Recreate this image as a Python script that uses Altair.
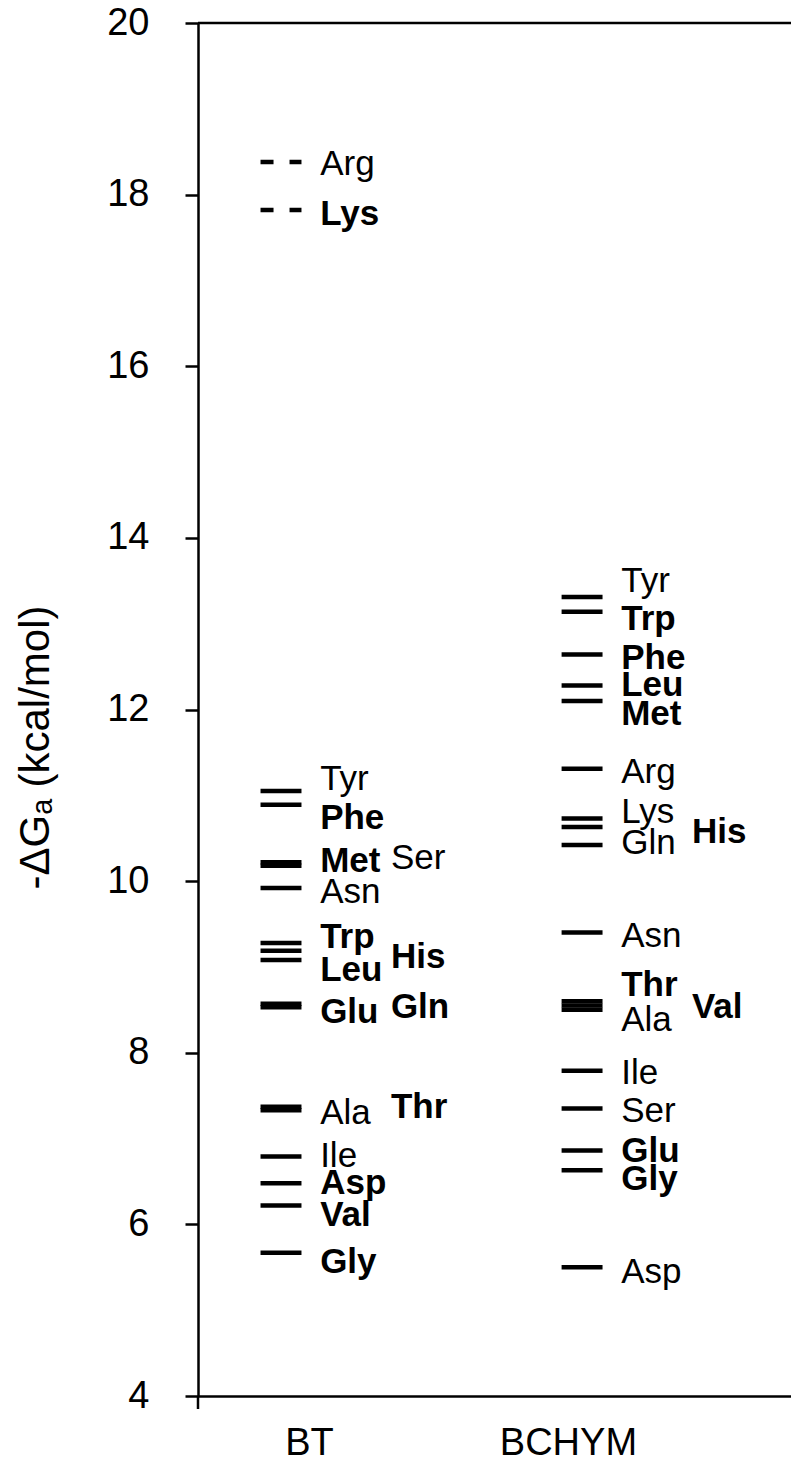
import altair as alt
import pandas as pd

columns = ["BT", "BCHYM"]

bt_names = ["Arg", "Lys", "Tyr", "Phe", "Met", "Ser", "Asn", "Trp", "His",
            "Leu", "Glu", "Gln", "Ala", "Thr", "Ile", "Asp", "Val", "Gly"]
bt_values = [18.38, 17.82, 11.05, 10.89, 10.22, 10.18, 9.92, 9.28, 9.19,
             9.08, 8.57, 8.53, 7.37, 7.33, 6.79, 6.48, 6.22, 5.67]
bt_label_y = [18.36, 17.77, 11.19, 10.74, 10.24, 10.27, 9.87, 9.35, 9.12,
              8.97, 8.48, 8.53, 7.30, 7.37, 6.80, 6.48, 6.11, 5.56]
bt_bold = [False, True, False, True, True, False, False, True, True,
           True, True, True, False, True, False, True, True, True]
bt_label_col = [0, 0, 0, 0, 0, 1, 0, 0, 1, 0, 0, 1, 0, 1, 0, 0, 0, 0]
bt_dashed = [True, True, False, False, False, False, False, False, False,
             False, False, False, False, False, False, False, False, False]

bc_names = ["Tyr", "Trp", "Phe", "Leu", "Met", "Arg", "Lys", "His", "Gln",
            "Asn", "Thr", "Val", "Ala", "Ile", "Ser", "Glu", "Gly", "Asp"]
bc_values = [13.31, 13.14, 12.64, 12.28, 12.10, 11.31, 10.73, 10.63, 10.42,
             9.40, 8.60, 8.55, 8.50, 7.79, 7.35, 6.86, 6.63, 5.50]
bc_label_y = [13.50, 13.05, 12.60, 12.28, 11.95, 11.27, 10.81, 10.57, 10.45,
              9.36, 8.79, 8.53, 8.38, 7.76, 7.32, 6.85, 6.53, 5.44]
bc_bold = [False, True, True, True, True, False, False, True, False,
           False, True, True, False, False, False, True, True, False]
bc_label_col = [0, 0, 0, 0, 0, 0, 0, 1, 0, 0, 0, 1, 0, 0, 0, 0, 0, 0]
bc_dashed = [False] * 18

y_ticks = [4, 6, 8, 10, 12, 14, 16, 18, 20]

FONT = "Liberation Sans, Arial, DejaVu Sans, sans-serif"
W, H = 593, 1373
HALF = 0.068        # half length of a level mark, in column units
LAB_OFF = 0.13      # label offset from column centre
LAB_COL2 = 0.235    # extra offset for second label column

rows = []
for ci, (names, vals, ly, bold, lcol, dash) in enumerate([
        (bt_names, bt_values, bt_label_y, bt_bold, bt_label_col, bt_dashed),
        (bc_names, bc_values, bc_label_y, bc_bold, bc_label_col, bc_dashed)]):
    for n, v, l, b, c, d in zip(names, vals, ly, bold, lcol, dash):
        rows.append({
            "column": columns[ci], "name": n, "value": v, "label_y": l,
            "bold": b, "dashed": d,
            "x1": ci - HALF, "x2": ci + HALF,
            "lx": ci + LAB_OFF + LAB_COL2 * c,
        })
df = pd.DataFrame(rows)

xscale = alt.Scale(domain=[-0.2757, 1.694], nice=False, zero=False)
yscale = alt.Scale(domain=[4, 20], nice=False, zero=False)

base = alt.Chart(df)

solid = base.transform_filter("!datum.dashed").mark_rule(
    color="black", strokeWidth=4.5
).encode(
    x=alt.X("x1:Q", scale=xscale,
            axis=alt.Axis(values=[0.093, 0.953],
                          labelExpr="datum.value < 0.5 ? 'BT' : 'BCHYM'",
                          ticks=False, tickSize=0, grid=False,
                          domainColor="black", domainWidth=2.5,
                          labelFont=FONT, labelFontSize=38, labelColor="black",
                          labelPadding=47, labelBaseline="middle",
                          title=None)),
    x2="x2:Q",
    y=alt.Y("value:Q", scale=yscale,
            axis=alt.Axis(values=y_ticks, format="d", grid=False, tickSize=13,
                          tickWidth=2.5, tickColor="black",
                          domainColor="black", domainWidth=2.5,
                          labelFont=FONT, labelFontSize=38, labelColor="black",
                          labelPadding=36,
                          title="-\u0394G\u2090 (kcal/mol)",
                          titleFont=FONT, titleFontSize=42,
                          titleFontWeight="normal", titleColor="black",
                          titleAngle=-90, titleBaseline="bottom",
                          titleX=-141, titleY=724)),
)

dashed = base.transform_filter("datum.dashed").mark_rule(
    color="black", strokeWidth=4.5, strokeDash=[13, 16]
).encode(x=alt.X("x1:Q", scale=xscale), x2="x2:Q",
         y=alt.Y("value:Q", scale=yscale))

txt_normal = base.transform_filter("!datum.bold").mark_text(
    align="left", baseline="middle", font=FONT, fontSize=35, color="black"
).encode(x=alt.X("lx:Q", scale=xscale), y=alt.Y("label_y:Q", scale=yscale),
         text="name:N")

txt_bold = base.transform_filter("datum.bold").mark_text(
    align="left", baseline="middle", font=FONT, fontSize=35, fontWeight="bold",
    color="black"
).encode(x=alt.X("lx:Q", scale=xscale), y=alt.Y("label_y:Q", scale=yscale),
         text="name:N")

frame_df = pd.DataFrame({"k": [0]})
top_line = alt.Chart(frame_df).mark_rule(color="black", strokeWidth=2.5).encode(
    x=alt.value(0), x2=alt.value(W), y=alt.value(0))
corner_tick = alt.Chart(frame_df).mark_rule(color="black", strokeWidth=2.5).encode(
    x=alt.value(0), y=alt.value(H), y2=alt.value(H + 13))

chart = alt.layer(solid, dashed, txt_normal, txt_bold, top_line, corner_tick).properties(
    width=W, height=H,
    autosize=alt.AutoSizeParams(type="none"),
    padding={"left": 190, "top": 15, "right": 0, "bottom": 72},
).configure_view(stroke=None).configure(background="white")

chart.save("out.html", embed_options={"renderer": "svg", "actions": False})
